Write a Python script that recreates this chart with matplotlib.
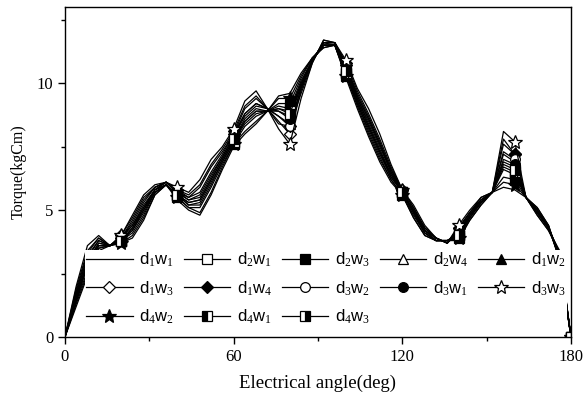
import matplotlib
matplotlib.use("Agg")
import matplotlib.pyplot as plt
from matplotlib.ticker import MultipleLocator

plt.rcParams["mathtext.fontset"] = "custom"
plt.rcParams["mathtext.rm"] = "Liberation Serif"
plt.rcParams["mathtext.it"] = "Liberation Serif"
plt.rcParams["mathtext.default"] = "rm"

# electrical angle (deg), sampled every 4 deg
angle = list(range(0, 181, 4))

# torque (kgCm) per design
d1w1 = [0, 1.2, 2.4, 3.4, 3.6, 3.7, 3.9, 4.6, 5.6, 6.0, 5.4, 5.0, 4.8, 5.6, 6.6, 7.5, 8.0, 8.4, 8.9, 9.5,
        9.6, 10.4, 11.0, 11.4, 11.5, 10.2, 9.0, 7.9, 6.9, 6.1, 5.6, 4.7, 4.0, 3.8, 3.8, 3.8, 4.6, 5.2, 5.7,
        5.9, 5.8, 5.5, 5.1, 4.4, 3.0, 0]
d4w2 = [0, 1.3, 2.5, 3.5, 3.6, 3.7, 4.0, 4.7, 5.6, 6.0, 5.5, 5.1, 4.9, 5.7, 6.7, 7.6, 8.1, 8.5, 8.9, 9.4,
        9.4, 10.3, 11.0, 11.4, 11.5, 10.3, 9.1, 8.0, 7.0, 6.2, 5.6, 4.7, 4.0, 3.8, 3.8, 3.9, 4.6, 5.2, 5.7,
        6.1, 6.0, 5.5, 5.1, 4.4, 3.0, 0]
d2w3 = [0, 1.4, 2.6, 3.5, 3.6, 3.8, 4.1, 4.8, 5.7, 6.0, 5.5, 5.1, 5.1, 5.9, 6.8, 7.6, 8.3, 8.7, 8.9, 9.2,
        9.2, 10.2, 11.0, 11.5, 11.5, 10.3, 9.2, 8.1, 7.1, 6.2, 5.6, 4.8, 4.1, 3.8, 3.8, 3.9, 4.7, 5.3, 5.7,
        6.3, 6.2, 5.5, 5.0, 4.4, 3.1, 0]
d2w1 = [0, 1.4, 2.8, 3.6, 3.6, 3.8, 4.2, 4.9, 5.7, 6.0, 5.6, 5.2, 5.2, 6.0, 6.9, 7.7, 8.4, 8.8, 8.9, 9.1,
        9.0, 10.1, 10.9, 11.5, 11.5, 10.4, 9.2, 8.2, 7.2, 6.3, 5.7, 4.9, 4.1, 3.8, 3.8, 4.0, 4.7, 5.3, 5.7,
        6.6, 6.4, 5.5, 5.0, 4.3, 3.1, 0]
d4w1 = [0, 1.5, 2.8, 3.6, 3.6, 3.8, 4.2, 5.0, 5.7, 6.0, 5.6, 5.2, 5.3, 6.1, 6.9, 7.7, 8.5, 8.9, 8.9, 9.0,
        8.9, 10.0, 10.9, 11.5, 11.5, 10.4, 9.3, 8.3, 7.3, 6.3, 5.7, 4.9, 4.1, 3.8, 3.8, 4.0, 4.7, 5.3, 5.7,
        6.7, 6.5, 5.5, 5.0, 4.3, 3.1, 0]
d4w3 = [0, 1.5, 2.9, 3.6, 3.6, 3.8, 4.3, 5.0, 5.8, 6.0, 5.6, 5.3, 5.4, 6.2, 7.0, 7.8, 8.5, 8.9, 8.9, 9.0,
        8.8, 10.0, 10.9, 11.5, 11.5, 10.5, 9.3, 8.3, 7.3, 6.4, 5.7, 4.9, 4.2, 3.8, 3.8, 4.0, 4.8, 5.3, 5.7,
        6.8, 6.6, 5.5, 5.0, 4.3, 3.2, 0]
d1w2 = [0, 1.6, 2.9, 3.7, 3.6, 3.8, 4.3, 5.1, 5.8, 6.0, 5.6, 5.3, 5.4, 6.2, 7.0, 7.8, 8.6, 9.0, 8.9, 8.9,
        8.7, 9.9, 10.9, 11.5, 11.5, 10.5, 9.4, 8.4, 7.4, 6.4, 5.7, 4.9, 4.2, 3.8, 3.8, 4.1, 4.8, 5.3, 5.7,
        6.9, 6.7, 5.5, 5.0, 4.3, 3.2, 0]
d3w1 = [0, 1.6, 3.0, 3.7, 3.6, 3.9, 4.4, 5.1, 5.8, 6.1, 5.7, 5.4, 5.5, 6.3, 7.1, 7.9, 8.7, 9.1, 9.0, 8.9,
        8.6, 9.9, 10.9, 11.6, 11.5, 10.6, 9.4, 8.5, 7.5, 6.5, 5.7, 5.0, 4.2, 3.9, 3.7, 4.1, 4.8, 5.4, 5.7,
        7.0, 6.8, 5.5, 4.9, 4.3, 3.2, 0]
d2w4 = [0, 1.7, 3.1, 3.8, 3.6, 3.9, 4.4, 5.2, 5.8, 6.1, 5.7, 5.4, 5.6, 6.4, 7.1, 7.9, 8.8, 9.2, 9.0, 8.7,
        8.4, 9.8, 10.9, 11.6, 11.6, 10.6, 9.5, 8.6, 7.6, 6.5, 5.7, 5.0, 4.2, 3.9, 3.7, 4.2, 4.8, 5.4, 5.7,
        7.2, 6.9, 5.5, 4.9, 4.3, 3.2, 0]
d3w2 = [0, 1.7, 3.2, 3.8, 3.6, 3.9, 4.5, 5.3, 5.9, 6.1, 5.7, 5.5, 5.7, 6.5, 7.2, 8.0, 8.8, 9.2, 9.0, 8.7,
        8.3, 9.8, 10.9, 11.6, 11.6, 10.7, 9.5, 8.6, 7.6, 6.6, 5.7, 5.0, 4.3, 3.9, 3.7, 4.2, 4.9, 5.4, 5.7,
        7.3, 7.0, 5.5, 4.9, 4.3, 3.3, 0]
d1w3 = [0, 1.8, 3.3, 3.9, 3.6, 3.9, 4.6, 5.4, 5.9, 6.1, 5.8, 5.5, 5.9, 6.7, 7.3, 8.0, 9.0, 9.4, 9.0, 8.5,
        8.0, 9.7, 10.9, 11.6, 11.6, 10.7, 9.6, 8.7, 7.7, 6.6, 5.8, 5.1, 4.3, 3.9, 3.7, 4.3, 4.9, 5.4, 5.7,
        7.6, 7.2, 5.5, 4.9, 4.3, 3.3, 0]
d1w4 = [0, 1.9, 3.4, 3.9, 3.6, 4.0, 4.7, 5.5, 5.9, 6.1, 5.8, 5.6, 6.0, 6.8, 7.4, 8.1, 9.1, 9.5, 9.0, 8.4,
        8.3, 9.6, 10.8, 11.7, 11.6, 10.8, 9.7, 8.8, 7.8, 6.7, 5.8, 5.1, 4.3, 3.9, 3.7, 4.3, 4.9, 5.5, 5.7,
        7.8, 7.2, 5.5, 4.8, 4.2, 3.3, 0]
d3w3 = [0, 2.0, 3.6, 4.0, 3.6, 4.0, 4.8, 5.6, 6.0, 6.1, 5.9, 5.7, 6.2, 7.0, 7.5, 8.2, 9.3, 9.7, 9.0, 8.2,
        7.6, 9.4, 10.8, 11.7, 11.6, 10.9, 9.8, 9.0, 8.0, 6.8, 5.8, 5.2, 4.4, 3.9, 3.7, 4.4, 5.0, 5.5, 5.7,
        8.1, 7.7, 5.5, 4.8, 4.2, 3.4, 0]

# legend order as in the figure (row by row)
series = [
    ("d$_1$w$_1$", d1w1, dict(marker="None")),
    ("d$_2$w$_1$", d2w1, dict(marker="s", mfc="white")),
    ("d$_2$w$_3$", d2w3, dict(marker="s", mfc="black")),
    ("d$_2$w$_4$", d2w4, dict(marker="^", mfc="white")),
    ("d$_1$w$_2$", d1w2, dict(marker="^", mfc="black")),
    ("d$_1$w$_3$", d1w3, dict(marker="D", mfc="white", ms=6)),
    ("d$_1$w$_4$", d1w4, dict(marker="D", mfc="black", ms=6)),
    ("d$_3$w$_2$", d3w2, dict(marker="o", mfc="white")),
    ("d$_3$w$_1$", d3w1, dict(marker="o", mfc="black")),
    ("d$_3$w$_3$", d3w3, dict(marker="*", mfc="white", ms=10)),
    ("d$_4$w$_2$", d4w2, dict(marker="*", mfc="black", ms=10)),
    ("d$_4$w$_1$", d4w1, dict(marker="s", mfc="black", fillstyle="left", markerfacecoloralt="white")),
    ("d$_4$w$_3$", d4w3, dict(marker="s", mfc="black", fillstyle="right", markerfacecoloralt="white")),
]

fig = plt.figure(figsize=(5.85, 3.96), dpi=100)
ax = fig.add_axes([0.111, 0.149, 0.865, 0.833])

lines = []
for label, ys, st in series:
    kw = dict(color="black", lw=0.9, mec="black", mew=0.9, ms=7, markevery=(5, 5))
    kw.update(st)
    ln, = ax.plot(angle, ys, label=label, **kw)
    lines.append(ln)

ax.set_xlim(0, 180)
ax.set_ylim(0, 13)
ax.xaxis.set_major_locator(MultipleLocator(60))
ax.xaxis.set_minor_locator(MultipleLocator(30))
ax.yaxis.set_major_locator(MultipleLocator(5))
ax.yaxis.set_minor_locator(MultipleLocator(2.5))
ax.tick_params(which="both", direction="out", top=False, right=False, width=1)
ax.tick_params(which="major", length=5)
ax.tick_params(which="minor", length=3)
for lab in ax.get_xticklabels() + ax.get_yticklabels():
    lab.set_family("Liberation Serif")
    lab.set_fontsize(12)
for s in ax.spines.values():
    s.set_linewidth(1.0)

ax.set_xlabel("Electrical angle(deg)", family="Liberation Serif", fontsize=13.5, labelpad=7)
ax.set_ylabel("Torque(kgCm)", family="Liberation Serif", fontsize=11.5, labelpad=7)

# matplotlib fills legend columns first; reorder so it reads row by row
order = [0, 5, 10, 1, 6, 11, 2, 7, 12, 3, 8, 4, 9]
leg = ax.legend([lines[i] for i in order], [series[i][0] for i in order],
                loc="lower left", bbox_to_anchor=(0.04, 0.03, 0.952, 0.24), mode="expand",
                ncol=5, borderaxespad=0, frameon=True, fancybox=False, framealpha=1,
                edgecolor="none", facecolor="white", handlelength=2.8, handletextpad=0.4,
                columnspacing=0.5, labelspacing=0.62, borderpad=0.05,
                prop=dict(family="Liberation Sans", size=12))

fig.savefig("out.png", dpi=100)
